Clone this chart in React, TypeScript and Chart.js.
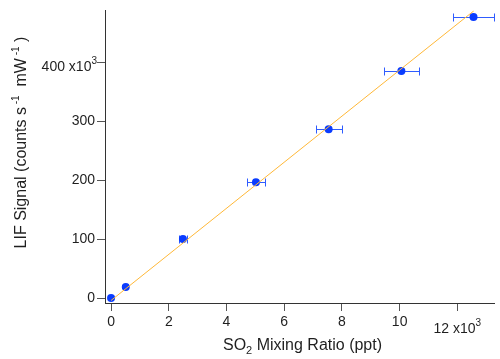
import React, { useEffect, useRef } from "react";
import { Chart, registerables } from "chart.js";

Chart.register(...registerables);

// Data (raw units)
const so2Ppt = [0, 510, 2490, 5020, 7540, 10060, 12560];
const lifSignal = [0, 19000, 100500, 196800, 286700, 385500, 477000];
const so2Err = [0, 0, 130, 300, 450, 610, 720];

// Linear fit line endpoints
const fitX = [0, 12570];
const fitY = [-4000, 487500];

// Tick values
const xTicks = [0, 2000, 4000, 6000, 8000, 10000, 12000];
const yTicks = [0, 100000, 200000, 300000, 400000];
const xTickLabels = ["0", "2", "4", "6", "8", "10", "12"];
const yTickLabels = ["0", "100", "200", "300", "400"];
const multiplierText = " x10";
const multiplierExp = "3";

// Axis titles as rich-text segments (text, size, vertical shift)
const xTitleSegments = [
  { text: "SO", size: 16, dy: 0 },
  { text: "2", size: 11, dy: 4 },
  { text: " Mixing Ratio (ppt)", size: 16, dy: 0 },
];
const yTitleSegments = [
  { text: "LIF Signal (counts s", size: 16, dy: 0 },
  { text: " -1", size: 10, dy: -7 },
  { text: "  mW", size: 16, dy: 0 },
  { text: " -1", size: 10, dy: -7 },
  { text: " )", size: 16, dy: 0 },
];

const FONT_FAMILY = "'Liberation Sans', Arial, Helvetica, sans-serif";
const TEXT_COLOR = "#1f1f1f";
const AXIS_COLOR = "#333333";
const POINT_COLOR = "#0a3cff";
const ERR_COLOR = "#2f5cff";
const FIT_COLOR = "#ffb838";

type Seg = { text: string; size: number; dy: number };

function measureRich(ctx: CanvasRenderingContext2D, segs: Seg[]) {
  const widths = segs.map((s) => {
    ctx.font = `${s.size}px ${FONT_FAMILY}`;
    return ctx.measureText(s.text).width;
  });
  return { widths, total: widths.reduce((a, b) => a + b, 0) };
}

function drawRich(ctx: CanvasRenderingContext2D, segs: Seg[], align: "center" | "right" = "center") {
  const { widths, total } = measureRich(ctx, segs);
  let x = align === "center" ? -total / 2 : -total;
  segs.forEach((s, i) => {
    ctx.font = `${s.size}px ${FONT_FAMILY}`;
    ctx.fillText(s.text, x, s.dy);
    x += widths[i];
  });
}

const errorBarsPlugin = {
  id: "errorBars",
  beforeDatasetsDraw(chart: any) {
    const { ctx } = chart;
    const xs = chart.scales.x;
    const ys = chart.scales.y;
    ctx.save();
    ctx.strokeStyle = ERR_COLOR;
    ctx.lineWidth = 1;
    so2Ppt.forEach((xv, i) => {
      const e = so2Err[i];
      if (!e) return;
      const py = Math.round(ys.getPixelForValue(lifSignal[i])) + 0.5;
      const x1 = Math.round(xs.getPixelForValue(xv - e)) + 0.5;
      const x2 = Math.round(xs.getPixelForValue(xv + e)) + 0.5;
      ctx.beginPath();
      ctx.moveTo(x1, py);
      ctx.lineTo(x2, py);
      ctx.moveTo(x1, py - 4);
      ctx.lineTo(x1, py + 4);
      ctx.moveTo(x2, py - 4);
      ctx.lineTo(x2, py + 4);
      ctx.stroke();
    });
    ctx.restore();
  },
};

const titlesPlugin = {
  id: "richTitles",
  afterDraw(chart: any) {
    const { ctx } = chart;
    const xs = chart.scales.x;
    const ys = chart.scales.y;
    ctx.save();
    ctx.fillStyle = TEXT_COLOR;
    ctx.textBaseline = "alphabetic";
    ctx.textAlign = "left";
    // x title
    ctx.save();
    ctx.translate(302.5, 350);
    drawRich(ctx, xTitleSegments);
    ctx.restore();
    // y title
    ctx.save();
    ctx.translate(25.5, 142.5);
    ctx.rotate(-Math.PI / 2);
    drawRich(ctx, yTitleSegments);
    ctx.restore();
    // x multiplier tick label (last tick)
    const lastX = xTicks.length - 1;
    ctx.save();
    ctx.translate(xs.getPixelForValue(xTicks[lastX]), 333);
    drawRich(ctx, [
      { text: xTickLabels[lastX] + multiplierText, size: 14, dy: 0 },
      { text: multiplierExp, size: 10, dy: -7 },
    ]);
    ctx.restore();
    // y multiplier tick label (last tick)
    const lastY = yTicks.length - 1;
    ctx.save();
    ctx.translate(97, ys.getPixelForValue(yTicks[lastY]) + 8.5);
    drawRich(
      ctx,
      [
        { text: yTickLabels[lastY] + multiplierText, size: 14, dy: 0 },
        { text: multiplierExp, size: 10, dy: -7 },
      ],
      "right"
    );
    ctx.restore();
    ctx.restore();
  },
};

export default function App() {
  const canvasRef = useRef<HTMLCanvasElement | null>(null);

  useEffect(() => {
    if (!canvasRef.current) return;
    const font = { family: FONT_FAMILY, size: 14 };
    const chart = new Chart(canvasRef.current, {
      type: "scatter",
      data: {
        datasets: [
          {
            type: "line",
            data: fitX.map((x, i) => ({ x, y: fitY[i] })),
            borderColor: FIT_COLOR,
            borderWidth: 1,
            pointRadius: 0,
            showLine: true,
            fill: false,
          } as any,
          {
            data: so2Ppt.map((x, i) => ({ x, y: lifSignal[i] })),
            backgroundColor: POINT_COLOR,
            borderColor: POINT_COLOR,
            borderWidth: 0,
            pointRadius: 4,
            showLine: false,
          },
        ],
      },
      options: {
        responsive: false,
        animation: false,
        events: [],
        layout: { padding: { left: 0, right: 6, top: 5, bottom: 0 } },
        plugins: {
          legend: { display: false },
          tooltip: { enabled: false },
        },
        scales: {
          x: {
            type: "linear",
            min: -210,
            max: 13270,
            afterBuildTicks: (s: any) => {
              s.ticks = xTicks.map((v) => ({ value: v }));
            },
            afterFit: (s: any) => {
              s.height = 56;
            },
            grid: {
              display: true,
              drawOnChartArea: false,
              drawTicks: true,
              tickLength: 8,
              tickColor: "#555555",
              tickWidth: 1,
            },
            border: { display: true, color: AXIS_COLOR, width: 1 },
            ticks: {
              padding: 3,
              color: TEXT_COLOR,
              font,
              maxRotation: 0,
              autoSkip: false,
              callback: (_v: any, i: number) =>
                i === xTicks.length - 1 ? "" : xTickLabels[i],
            },
            title: { display: false },
          },
          y: {
            type: "linear",
            min: -8300,
            max: 488300,
            afterBuildTicks: (s: any) => {
              s.ticks = yTicks.map((v) => ({ value: v }));
            },
            afterFit: (s: any) => {
              s.width = 105;
            },
            grid: {
              display: true,
              drawOnChartArea: false,
              drawTicks: true,
              tickLength: 8,
              tickColor: "#555555",
              tickWidth: 1,
            },
            border: { display: true, color: AXIS_COLOR, width: 1 },
            ticks: {
              padding: 2,
              color: TEXT_COLOR,
              font,
              autoSkip: false,
              callback: (_v: any, i: number) =>
                i === yTicks.length - 1 ? "" : yTickLabels[i],
            },
            title: { display: false },
          },
        },
      },
      plugins: [errorBarsPlugin, titlesPlugin],
    });
    return () => chart.destroy();
  }, []);

  return (
    <canvas
      ref={canvasRef}
      width={500}
      height={359}
      style={{ position: "absolute", left: 0, top: 0, width: 500, height: 359 }}
    />
  );
}
